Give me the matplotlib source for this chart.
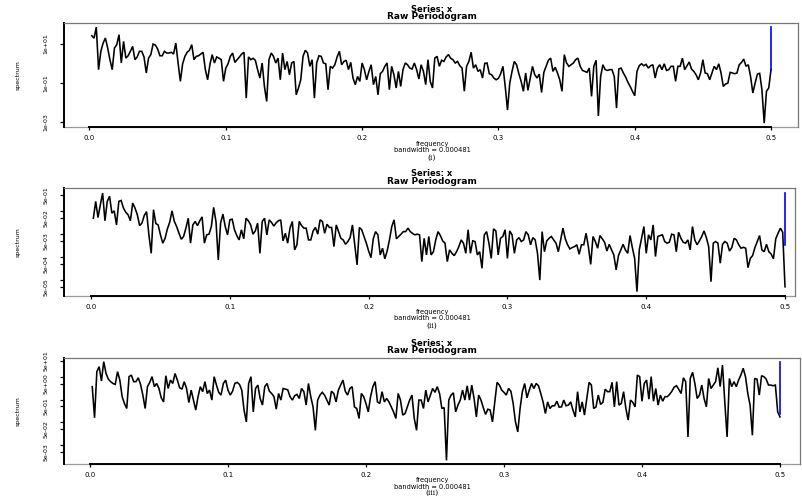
import numpy as np
import matplotlib
matplotlib.use('Agg')
import matplotlib.pyplot as plt

# raw periodogram of a series of length 600 -> 300 Fourier frequencies
N_OBS = 600
freq = np.arange(1, N_OBS // 2 + 1) / N_OBS

# log10(spectrum)
log_spec_i = [
    1.41, 1.28, 1.85, -0.33, 0.61, 1.03, 1.29, 0.78, 0.18, -0.33,
    0.78, 0.95, 1.46, 0.01, 1.12, 0.26, 0.38, 0.61, 0.86, 0.18,
    0.32, 0.61, 0.61, 0.32, -0.5, 0.26, 0.44, 0.98, 0.93, 0.73,
    0.38, 0.38, 0.61, 0.52, 0.52, 0.56, 0.47, 1.03, 0.01, -0.93,
    -0.03, 0.35, 0.56, 0.66, 0.95, 0.18, 0.35, 0.38, 0.47, 0.56,
    -0.33, -0.85, -0.08, 0.44, 0.01, 0.32, 0.26, 0.18, -0.93, -0.25,
    -0.03, 0.35, 0.52, 0.04, 0.18, 0.32, 0.47, 0.56, -1.79, 0.32,
    0.18, 0.25, 0.15, -0.33, -0.76, 0.01, -1.19, -1.96, 0.18, 0.52,
    0.35, 0.01, 0.26, -0.85, 0.52, -0.33, 0.09, -0.59, 0.01, 0.09,
    -1.62, -1.27, -0.85, 0.35, 0.66, 0.52, -0.16, 0.18, -1.79, 0.01,
    0.38, 0.35, 0.01, -0.03, -1.36, -0.16, -0.25, -0.08, 0.32, 0.61,
    -0.08, 0.09, 0.15, -0.33, 0.04, -0.76, -1.10, -0.68, -0.93, 0.01,
    -0.33, -0.85, -0.42, -0.08, -1.10, -0.68, -1.62, -0.54, -0.42, -0.16,
    0.01, -1.36, -0.16, -0.59, -1.27, -0.42, -1.19, -0.33, 0.01, -0.08,
    -0.25, -0.30, 0.01, -0.33, -0.81, -0.08, -0.42, -1.10, 0.18, -0.93,
    -1.27, 0.26,
    0.35, -0.16, 0.15, 0.09, 0.32, 0.44, 0.25, 0.18,
    0.01, 0.09, -0.13, -0.25, -1.44, -0.16, 0.09, 0.56, -0.25, -0.08,
    -0.42, -0.33, -0.76, -0.01, 0.01, -0.54, -0.59, -0.76, -0.85, -0.78,
    -0.54, -0.16, -1.19, -2.4, -1.02, -0.42, 0.09, -0.08, -0.54, -0.93,
    -1.44, -0.5, -1.39, -0.76, -0.16, -0.59, -0.76, -0.56, -1.5, -0.47,
    -0.16, 0.15, 0.26, -0.42, -0.21, -0.5, -0.85, -1.44, 0.44, 0.01,
    -0.16, -0.08, 0.01, 0.18, 0.26, -0.16, -0.37, -0.42, -0.47, -0.25,
    -1.7, -0.16, 0.15, -2.7, -0.68, -0.08, -0.33, -0.37, -0.33, -0.33,
    -0.68, -2.3, -0.3, -0.25, -0.5, -0.71, -0.98, -1.19, -1.44, -1.67,
    -0.42, -0.13, -0.03, -0.13, -0.06, -0.25, -0.13, -0.08, -0.76, -0.25,
    -0.08, -0.33, -0.03, -0.37, -0.33, -0.16, -0.16, -0.93, -0.16, -0.16,
    0.26, -0.33, -0.13, 0.06, -0.3, -0.42, -0.59, -0.85, -0.5, 0.18,
    -0.5, -0.54, -0.85, -0.5, -0.16, -0.33, -0.03, -0.5, -1.19, -1.07,
    -1.02, -0.47, -0.5, -0.54, -0.5, -0.08, 0.04, 0.21, -0.16, -0.08,
    -0.68, -1.53, -1.02, -0.56, -0.52, -1.36, -3.07, -1.44, -1.27, -0.33,
]

log_spec_ii = [
    -1.32, -0.59, -1.29, -0.74, -0.23, -1.43, -0.59, -0.37, -1.10, -1.0,
    -1.61, -0.59, -0.55, -0.88, -1.06, -1.17, -1.43, -0.66, -0.88, -1.17,
    -1.64, -1.53, -1.2, -1.03, -2.04, -2.84, -0.95, -1.55, -1.61, -2.04,
    -2.40, -2.19, -1.78, -1.49, -1.0, -1.46, -1.68, -1.97, -2.23, -2.11,
    -1.75, -1.32, -2.40, -1.61, -1.46, -1.64, -1.43, -1.26, -2.40, -2.04,
    -2.01, -1.68, -0.85, -1.46, -3.13, -1.53, -1.14, -1.68, -2.04, -1.39,
    -1.36, -1.82, -2.07, -2.26, -1.82, -2.21, -1.32, -1.43, -1.61, -2.01,
    -1.87, -1.53, -2.84, -1.46, -1.32, -2.04, -1.39, -1.5, -1.66, -1.52,
    -1.43, -1.39, -2.30, -1.97, -2.40, -1.75, -1.46, -2.69, -2.47, -1.46,
    -1.64, -1.75, -1.75, -2.26, -2.26, -1.87, -1.72, -2.01, -1.39, -1.46,
    -1.97, -1.58, -1.72, -1.72, -2.55, -1.61, -1.90, -2.19, -2.26, -2.45,
    -2.33, -2.16, -1.61, -2.47, -3.34, -1.72, -1.82, -2.11, -2.40, -2.74,
    -3.03, -2.21, -1.90, -2.04, -2.91, -2.62, -3.08, -2.74, -2.26, -1.68,
    -1.39, -2.21, -2.11, -2.01, -1.90, -1.90, -1.75, -1.90, -1.98, -2.04,
    -2.01, -2.04, -3.20, -2.19, -2.91, -2.11, -2.91, -2.77,
    -2.26, -1.90,
    -2.07, -2.30, -2.40, -3.20, -2.69, -2.84, -2.94, -2.77, -2.55, -2.26,
    -2.40, -2.84, -1.82, -2.84, -2.30, -2.33, -2.91, -2.77, -3.49, -2.04,
    -1.90, -2.40, -3.06, -1.78, -1.87, -2.91, -2.19, -2.11, -1.82, -3.06,
    -1.87, -2.04, -2.84, -2.26, -2.16, -2.33, -2.26, -1.90, -2.04, -2.47,
    -2.16, -2.26, -2.84, -4.0, -1.90, -2.77, -2.30, -2.19, -2.11, -2.26,
    -2.40, -2.77, -2.26, -1.75, -2.21, -2.47, -2.65, -2.59, -2.55, -2.47,
    -2.88, -2.47, -2.47, -1.97, -2.55, -3.32, -2.11, -2.33, -2.62, -2.07,
    -2.21, -2.36, -2.74, -2.45, -2.69, -2.91, -3.56, -2.94, -2.69, -2.45,
    -2.69, -2.84, -2.07, -2.59, -3.06, -4.50, -2.69, -2.19, -1.68, -2.84,
    -2.04, -2.26, -1.61, -2.98, -2.11, -2.07, -2.04, -2.33, -2.40, -2.36,
    -2.01, -2.04, -2.77, -1.93, -2.19, -2.36, -2.40, -2.26, -2.69, -1.68,
    -2.26, -2.47, -2.30, -2.11, -1.87, -2.16, -2.55, -4.07, -2.40, -2.33,
    -2.40, -3.27, -2.45, -2.33, -2.40, -2.74, -2.59, -2.19, -2.26, -2.47,
    -2.62, -2.58, -2.62, -3.46, -3.06, -2.94, -2.59, -2.33, -2.07, -2.69,
    -2.77, -2.45, -2.77, -2.87, -3.08, -2.21, -1.97, -1.75, -1.93, -4.29,
]

log_spec_iii = [
    0.57, -0.80, 1.23, 1.45, 0.82, 1.67, 1.15, 0.90, 0.79, 0.71,
    0.67, 1.23, 0.86, 0.13, -0.17, -0.39, 1.01, 1.08, 0.79, 0.79,
    0.96, 0.67, 0.20, -0.39, 0.57, 0.76, 1.01, 0.57, 0.71, 0.49,
    0.08, -0.10, 1.05, 0.49, 0.86, 0.71, 1.15, 0.86, 0.52, 0.46,
    0.79, 0.49, -0.13, 0.42, -0.02, -0.46, 0.13, 0.57, 0.35, 0.79,
    0.27, 0.42, -0.02, 1.01, 0.64, 0.32, 0.20, 0.71, 0.86, 0.42,
    0.20, 0.37, 0.71, 0.76, 0.67, 0.42, -0.46, -0.98, 0.71, 1.01,
    -0.54, 0.49, 0.64, 0.05, -0.24, 0.57, 0.71, 0.37, 0.27, 0.13,
    -0.42, 0.27, -0.02, 0.49, 0.46, 0.43, 0.13, -0.02, 0.17, 0.23,
    0.05, 0.49, 0.35, -0.24, 0.71, 0.13, -0.32, -1.35, -0.02, 0.20,
    0.32, 0.20, -0.02, -0.24, 0.37, 0.27, -0.10, 0.42, 0.64, 0.86,
    0.37, 0.20, 0.49, 0.57, -0.32, -0.39, -0.83, 0.27, 0.13, -0.17,
    -0.54, 0.13, 0.57, 0.79, -0.10, -0.17, 0.35, -0.10, 0.05, -0.10,
    -0.32, -0.54, -0.83, 0.27, -0.02, -0.68, -0.61, -0.32, -0.02, 0.20,
    -0.83, -1.35, -0.02, -0.02, -0.39, 0.42, -0.10, 0.20, 0.49,
    0.32,
    0.57, 0.27, -0.39, -0.35, -2.67, -0.02, 0.20, 0.30, -0.54, -0.24,
    -0.02, 0.42, -0.02, 0.61, -0.02, 0.64, 0.05, -0.76, 0.20, -0.02,
    -0.35, -0.65, -0.42, -0.46, -0.98, -0.10, 0.76, 0.64, 0.42, 0.32,
    0.20, 0.49, 0.37, -0.17, -0.98, -1.42, -0.39, 0.35, 0.71, 0.08,
    0.42, 0.71, 0.49, 0.71, 0.61, 0.27, -0.10, -0.61, -0.10, -0.39,
    -0.27, -0.27, -0.07, -0.33, -0.32, -0.02, -0.27, -0.24, -0.10, -0.46,
    -0.76, 0.35, -0.54, -0.10, -0.68, 0.05, 0.76, 0.64, -0.39, -0.32,
    0.20, -0.21, -0.12, 0.46, 0.35, 0.35, 0.76, -0.32, 0.79, -0.24,
    -0.17, 0.35, -0.39, -0.90, -0.02, -0.12, -0.32, 1.08, 1.01, -0.07,
    0.71, 0.86, 0.02, 1.01, -0.07, 0.49, -0.24, 0.20, -0.07, 0.13,
    0.13, 0.23, 0.37, 0.55, 0.61, 0.45, 0.27, 0.96, 0.79, -1.64,
    0.93, 1.20, 0.71, 0.05, 0.20, 0.64, 0.05, -0.32, 0.93, 0.49,
    0.64, 0.79, 1.40, 0.57, 1.52, -0.10, -1.64, 0.93, 0.57, 0.79,
    0.57, 0.86, 1.08, 1.38, 1.01, 0.27, -0.24, -1.57, 0.93, 0.90,
    0.20, 1.05, 1.01, 0.90, 0.64, 0.64, 0.61, 0.64, -0.54, -0.76,
]

# blue confidence bar (log10 lower, upper)
ci_i = (-0.33, 1.86)
ci_ii = (-2.47, -0.23)
ci_iii = (-0.61, 1.67)

x_ticks = [0.0, 0.1, 0.2, 0.3, 0.4, 0.5]
x_labels = ['0.0', '0.1', '0.2', '0.3', '0.4', '0.5']

yt_i = [1e1, 1e-1, 1e-3]
yl_i = ['1e+01', '1e-01', '1e-03']
yt_ii = [5e-1, 1e-1, 5e-2, 1e-2, 5e-3, 1e-3, 5e-4, 1e-4, 5e-5]
yl_ii = ['5e-01', '', '5e-02', '', '5e-03', '', '5e-04', '', '5e-05']
yt_iii = [5e1, 1e1, 5e0, 1e0, 5e-1, 1e-1, 5e-2, 1e-2, 5e-3]
yl_iii = ['5e+01', '', '5e+00', '', '5e-01', '', '5e-02', '', '5e-03']

tags = ['(i)', '(ii)', '(iii)']
bw_text = 'bandwidth = 0.000481'

W, H = 802, 498

def rect(l, t, r, b):
    return [l / W, 1 - b / H, (r - l) / W, (b - t) / H]

def fy(y):
    return 1 - y / H

# box (px), xlim, log10 ylim, text rows (px)
PANELS = [
    (log_spec_i, ci_i, yt_i, yl_i, (64, 23, 798, 127), (-0.0187, 0.5198), (-3.27, 2.06),
     (9, 16.5, 144, 150.5, 157.5)),
    (log_spec_ii, ci_ii, yt_ii, yl_ii, (64, 188, 795, 296), (-0.0195, 0.5072), (-4.69, -0.01),
     (174, 181.5, 312, 318.5, 325.5)),
    (log_spec_iii, ci_iii, yt_iii, yl_iii, (64, 358, 800, 464), (-0.0188, 0.5145), (-2.83, 1.83),
     (343, 350.5, 480, 486.5, 493)),
]

fig = plt.figure(figsize=(W / 100, H / 100), dpi=100)

for i, (ls, ci, yt, yl, box, xlim, ylim, rows) in enumerate(PANELS):
    ax = fig.add_axes(rect(*box))
    ax.plot(freq, 10 ** np.asarray(ls), color='black', lw=1.15, solid_joinstyle='miter')
    ax.plot([freq[-1], freq[-1]], [10 ** ci[0], 10 ** ci[1]], color='blue', lw=1.2)
    ax.set_yscale('log')
    ax.set_xlim(xlim)
    ax.set_ylim(10 ** ylim[0], 10 ** ylim[1])

    ax.set_xticks(x_ticks)
    ax.set_xticklabels(x_labels, fontsize=5)
    ax.set_yticks(yt)
    ax.set_yticklabels(yl, fontsize=4.5, rotation=90, va='center')
    ax.minorticks_off()
    ax.tick_params(axis='x', length=2.5, width=0.9, pad=3.5)
    ax.tick_params(axis='y', length=3, width=0.9, pad=8)

    for s in ['top', 'right']:
        ax.spines[s].set_color('#777777')
        ax.spines[s].set_linewidth(0.9)
    ax.spines['left'].set_linewidth(1.4)
    ax.spines['bottom'].set_bounds(0, 0.5)
    ax.spines['bottom'].set_linewidth(1.4)
    ax.plot([0, 1], [0, 0], transform=ax.transAxes, color='#999999',
            lw=0.9, clip_on=False, zorder=0)

    cy = (box[1] + box[3]) / 2
    fig.text(18 / W, fy(cy), 'spectrum', rotation=90, fontsize=4.5,
             ha='center', va='center')

    cx = 432 / W
    fig.text(cx, fy(rows[0]), 'Series: x', fontsize=6, fontweight='bold',
             ha='center', va='center')
    fig.text(cx, fy(rows[1]), 'Raw Periodogram', fontsize=6.5, fontweight='bold',
             ha='center', va='center')
    fig.text(cx, fy(rows[2]), 'frequency', fontsize=4.8, ha='center', va='center')
    fig.text(cx, fy(rows[3]), bw_text, fontsize=4.8, ha='center', va='center')
    fig.text(cx, fy(rows[4]), tags[i], fontsize=5.5, family='DejaVu Serif',
             ha='center', va='center')

fig.savefig('out.png', dpi=100)
